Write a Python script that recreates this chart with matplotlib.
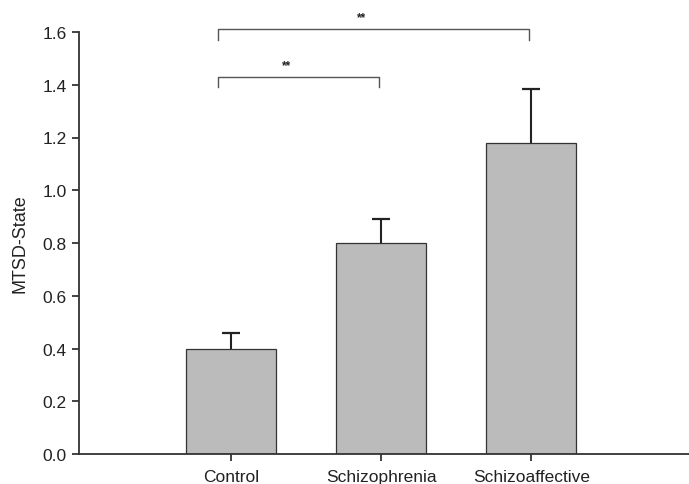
import matplotlib
matplotlib.use("Agg")
import matplotlib.pyplot as plt

categories = ["Control", "Schizophrenia", "Schizoaffective"]
means = [0.40, 0.80, 1.18]
sems = [0.06, 0.09, 0.205]
yticks = [0.0, 0.2, 0.4, 0.6, 0.8, 1.0, 1.2, 1.4, 1.6]
# significance brackets: (left group, right group, bracket height, label)
brackets = [(0, 2, 1.61, "**"), (0, 1, 1.43, "**")]

plt.rcParams['font.family'] = ['Liberation Sans', 'DejaVu Sans']

fig = plt.figure(figsize=(6.89, 4.85), dpi=100)
ax = fig.add_axes([79/689, 30/485, 1 - 79/689, (455-33)/485])

x = list(range(len(categories)))
ax.bar(x, means, width=0.6, color="#bbbbbb", edgecolor="#333333", linewidth=0.9, zorder=2)
ax.errorbar(x, means, yerr=[[0]*len(sems), sems], fmt="none", ecolor="#222222",
            elinewidth=1.5, capsize=0, zorder=3)
tops = [m + s for m, s in zip(means, sems)]
ax.plot(x, tops, linestyle="none", marker="_", markersize=13, markeredgewidth=1.6,
        color="#222222", zorder=3)

ax.set_xlim(-1.013, 3.05)
ax.set_ylim(0, 1.6)
ax.set_yticks(yticks)
ax.set_yticklabels([f"{v:.1f}" for v in yticks])
ax.set_xticks(x)
ax.set_xticklabels(categories)
ax.tick_params(axis="both", labelsize=12.5, colors="#222222", length=5, width=1.2, direction="out")
ax.tick_params(axis="y", pad=4)
ax.tick_params(axis="x", pad=6)
ax.set_ylabel("MTSD-State", fontsize=13, color="#222222", labelpad=10)

for s in ["top", "right"]:
    ax.spines[s].set_visible(False)
for s in ["left", "bottom"]:
    ax.spines[s].set_color("#333333")
    ax.spines[s].set_linewidth(1.3)

for l, r, h, lab in brackets:
    xl = l - 0.09
    xr = r - 0.013
    ax.plot([xl, xl, xr, xr], [h - 0.04, h, h, h - 0.04], color="#555555",
            linewidth=1.0, clip_on=False)
    ax.text((xl + xr) / 2 - 0.08, h + 0.045, lab, ha="center", va="center",
            fontsize=8.5, fontweight="bold", color="#222222", clip_on=False)

fig.savefig("out.png", dpi=100)
